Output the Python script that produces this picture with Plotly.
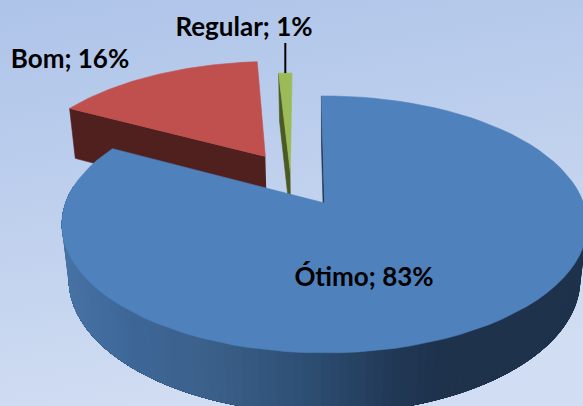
import numpy as np
import plotly.graph_objects as go

# Chart data
categories = ['Ótimo', 'Bom', 'Regular']
values = [83, 16, 1]
explode = [0.228, 0.228, 0.065]
nudge = [(0, 0), (0, 0.012), (-0.016, 0)]
label_x = [364, 70, 244]
label_y = [279.5, 61.5, 29.5]

top_colors = ['#4f81bd', '#c0504d', '#9bbb59']
wall_colors = ['#1f3450', '#4f201e', '#4a5a22']

# Rim shading of the big slice, left to right (pixel x, rgb)
rim_x = [60, 130, 200, 300, 400, 445, 590]
rim_rgb = [(72, 115, 165), (62, 103, 152), (60, 98, 140), (47, 80, 118),
           (33, 56, 85), (30, 50, 76), (30, 50, 76)]

W, H = 583, 406
START = -0.8

# Perspective of the pie plane, fitted to the picture
CX, CY = 324.5, 203
A, B, K = 259, 124.9, 0.167
DEPTH, DEPTH_W = 56, 0.026


def project(px, py, low=False):
    w = 1 + K * py + (DEPTH_W if low else 0)
    x = CX + A * px / w
    y = CY - (B * py - (DEPTH if low else 0)) / w
    return x, y


def polar(deg, r=1.0):
    t = np.radians(deg)
    return r * np.sin(t), r * np.cos(t)


def poly(x, y, color, lw=0.6):
    return go.Scatter(x=list(x), y=list(y), mode='lines', fill='toself', fillcolor=color,
                      line=dict(color=color, width=lw), hoverinfo='skip', showlegend=False)


# Slice angles and their explosion offsets
edges = START + np.cumsum([0] + values) * 3.6
offsets = []
for i in range(3):
    ox, oy = polar((edges[i] + edges[i + 1]) / 2, explode[i])
    offsets.append((ox + nudge[i][0], oy + nudge[i][1]))
origin = offsets[0]
offsets = [(ox - origin[0], oy - origin[1]) for ox, oy in offsets]


def rim(i, a0, a1, low=False, n=90):
    ang = np.linspace(a0, a1, n)
    dx, dy = polar(ang)
    return project(offsets[i][0] + dx, offsets[i][1] + dy, low)


def side_wall(i, deg):
    # flat cut face of a slice, from the apex out to the rim
    ox, oy = offsets[i]
    dx, dy = polar(deg)
    p = [project(ox, oy), project(ox + dx, oy + dy),
         project(ox + dx, oy + dy, True), project(ox, oy, True)]
    return poly([q[0] for q in p], [q[1] for q in p], wall_colors[i])


def wedge(i):
    x, y = rim(i, edges[i], edges[i + 1])
    ax, ay = project(*offsets[i])
    return poly([ax, *x, ax], [ay, *y, ay], top_colors[i])


fig = go.Figure()

# Bom
fig.add_trace(side_wall(1, edges[1]))
fig.add_trace(wedge(1))

# Regular
fig.add_trace(side_wall(2, edges[2]))
fig.add_trace(wedge(2))

# Leader line from the Regular label down to its slice
gx, gy = rim(2, (edges[2] + edges[3]) / 2, (edges[2] + edges[3]) / 2 + 0.01, n=2)
fig.add_trace(go.Scatter(x=[gx[0], gx[0]], y=[43, gy[0]], mode='lines',
                         line=dict(color='black', width=2), hoverinfo='skip', showlegend=False))

# Otimo: cut face, shaded outer wall, top
fig.add_trace(side_wall(0, edges[0]))
# bands run from right to left, each one painted over the whole rest of the wall so no seams show
rim_end = edges[1] - 20
seg = np.linspace(95, rim_end, 110)
for a0 in seg[:-1]:
    tx, ty = rim(0, a0, rim_end, n=60)
    bx, by = rim(0, rim_end, a0, low=True, n=60)
    m = (a0 + (rim_end - 95) / 220)
    mx = rim(0, m, m + 0.01, n=2)[0][0]
    rgb = [np.interp(mx, rim_x, [c[j] for c in rim_rgb]) for j in range(3)]
    color = 'rgb(%d,%d,%d)' % tuple(rgb)
    fig.add_trace(poly([*tx, *bx, tx[0]], [*ty, *by, ty[0]], color, lw=0))
fig.add_trace(wedge(0))

# Data labels
fig.add_trace(go.Scatter(
    x=label_x, y=label_y, mode='text',
    text=[f'{c}; {v}%' for c, v in zip(categories, values)],
    textposition='middle center',
    textfont=dict(family='Lato', size=26, color='black', weight='bold'),
    hoverinfo='skip', showlegend=False,
))

# Background gradient
bg = ("data:image/svg+xml;utf8,<svg xmlns='http://www.w3.org/2000/svg' width='583' height='406'>"
      "<defs><linearGradient id='g' x1='0.1' y1='0' x2='0.35' y2='1'>"
      "<stop offset='0' stop-color='%23aec4e9'/><stop offset='1' stop-color='%23d1ddf2'/>"
      "</linearGradient></defs><rect width='583' height='406' fill='url(%23g)'/></svg>")

fig.update_layout(
    width=W, height=H,
    margin=dict(l=0, r=0, t=0, b=0),
    paper_bgcolor='#c3d2ee',
    plot_bgcolor='rgba(0,0,0,0)',
    xaxis=dict(range=[0, W], visible=False, fixedrange=True),
    yaxis=dict(range=[H, 0], visible=False, fixedrange=True),
    images=[dict(source=bg, xref='paper', yref='paper', x=0, y=1, sizex=1, sizey=1,
                 sizing='stretch', xanchor='left', yanchor='top', layer='below')],
)

fig.write_html("out.html", config=dict(displayModeBar=False),
               post_script="document.body.style.margin='0';document.body.style.overflow='hidden';")
